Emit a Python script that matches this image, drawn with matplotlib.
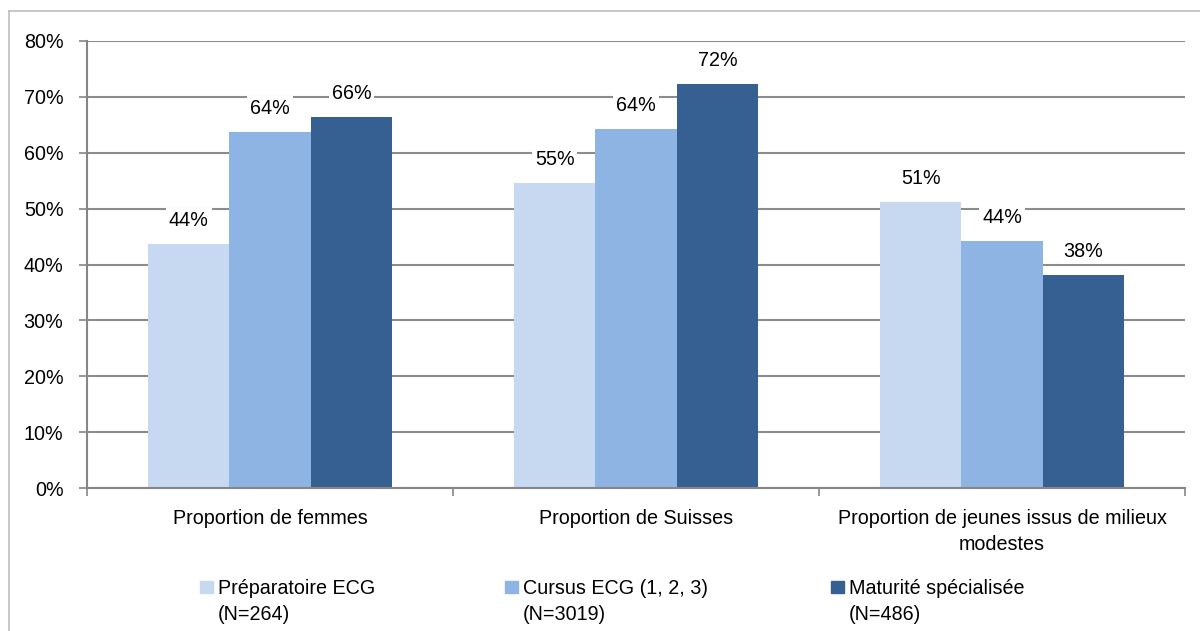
import matplotlib
matplotlib.use("Agg")
import matplotlib.pyplot as plt
from matplotlib.lines import Line2D
import numpy as np

plt.rcParams['font.family'] = ['Liberation Sans', 'DejaVu Sans']

categories = ["Proportion de femmes", "Proportion de Suisses",
              "Proportion de jeunes issus de milieux\nmodestes"]
series_names = ["Préparatoire ECG\n(N=264)", "Cursus ECG (1, 2, 3)\n(N=3019)",
                "Maturité spécialisée\n(N=486)"]
values = [
    [43.6, 54.6, 51.2],
    [63.7, 64.2, 44.2],
    [66.4, 72.3, 38.1],
]
labels = [
    ["44%", "55%", "51%"],
    ["64%", "64%", "44%"],
    ["66%", "72%", "38%"],
]
colors = ["#C6D9F1", "#8EB4E3", "#376092"]
yticks = [0, 10, 20, 30, 40, 50, 60, 70, 80]

FS = 14.2
W, H = 1200, 631
fig = plt.figure(figsize=(W / 100, H / 100), dpi=100)
ax = fig.add_axes([87 / W, 1 - 488 / H, (1185 - 87) / W, (488 - 41) / H])

x = np.arange(len(categories))
bw = 1 / 4.5
for i, (vals, col) in enumerate(zip(values, colors)):
    pos = x + (i - 1) * bw
    ax.bar(pos, vals, width=bw, color=col, zorder=2, label=series_names[i])
    for p, v, lab in zip(pos, vals, labels[i]):
        ax.annotate(lab, (p, v), xytext=(0, 17), textcoords="offset points",
                    ha="center", va="center", fontsize=FS, color="#000000",
                    zorder=4,
                    bbox=dict(boxstyle="square,pad=0.15", fc="white", ec="none"))

ax.set_xlim(-0.5, 2.5)
ax.set_ylim(0, 80)
ax.set_yticks(yticks)
ax.set_yticklabels([f"{t}%" for t in yticks], fontsize=FS)
ax.yaxis.grid(True, color="#8C8C8C", linewidth=1.5, zorder=1)
ax.set_axisbelow(True)

ax.set_xticks([-0.5, 0.5, 1.5, 2.5])
ax.set_xticklabels([])
ax.set_xticks(x, minor=True)
ax.set_xticklabels(categories, minor=True, fontsize=FS, linespacing=1.5)
ax.tick_params(axis="x", which="minor", length=0, pad=15)
ax.tick_params(axis="x", which="major", length=6, color="#868686", width=1.2)
ax.tick_params(axis="y", length=6, color="#868686", width=1.2, pad=11)

for s in ["top", "right"]:
    ax.spines[s].set_visible(False)
for s in ["left", "bottom"]:
    ax.spines[s].set_color("#868686")
    ax.spines[s].set_linewidth(1.5)

# legend
handles, lbls = ax.get_legend_handles_labels()
leg_x = [200, 505, 831]
for h, l, lx, col in zip(handles, lbls, leg_x, colors):
    fig.patches.append(plt.Rectangle((lx / W, 1 - 593 / H), 13 / W, 12 / H,
                                     transform=fig.transFigure, color=col,
                                     figure=fig))
    fig.text((lx + 18) / W, 1 - 579 / H, l, fontsize=FS, va="top", ha="left",
             linespacing=1.45)

# outer frame
fig.add_artist(Line2D([9 / W, 1], [1 - 11 / H, 1 - 11 / H], color="#BFBFBF",
                      linewidth=1.2, transform=fig.transFigure))
fig.add_artist(Line2D([9 / W, 9 / W], [0, 1 - 11 / H], color="#BFBFBF",
                      linewidth=1.2, transform=fig.transFigure))

fig.savefig("out.png", dpi=100, facecolor="white")
